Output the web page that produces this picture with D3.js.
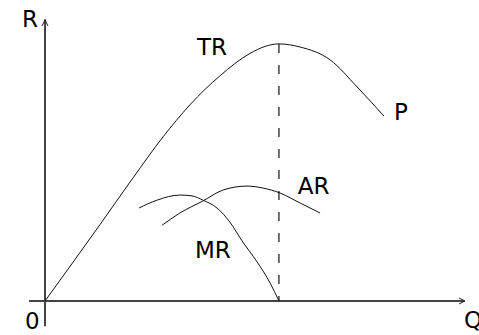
<!DOCTYPE html>
<html lang="en">
<head>
    <meta charset="UTF-8">
    <title>TR / AR / MR</title>
    <script src="https://d3js.org/d3.v7.min.js"></script>
    <style>
        body { margin: 0; background: #fff; }
        text { font-family: "DejaVu Sans", Verdana, sans-serif; font-size: 23px; fill: #000; }
    </style>
</head>
<body>
    <div id="chart"></div>
    <script>
        // curve values (Q on x, R on y, both 0..100)
        const trQ = [0, 13.1, 20.95, 28.1, 34.5, 41.7, 48.8, 52.4, 55.7, 60.7, 67.9, 74.3, 80.7];
        const trR = [0, 27.2, 43.8, 58.4, 69.8, 80.2, 88.1, 90.6, 91.5, 90.4, 85.8, 76.2, 65.8];

        const mrQ = [22.4, 26.7, 32.1, 35.0, 37.6, 40.95, 44.0, 47.1, 50.5, 53.6, 55.7];
        const mrR = [33.1, 35.9, 37.7, 37.4, 35.9, 33.1, 28.1, 21.0, 13.9, 6.4, 0];

        const arQ = [27.9, 32.1, 37.6, 42.4, 48.1, 51.9, 56.0, 60.7, 65.5];
        const arR = [27.0, 31.3, 35.6, 39.5, 40.9, 40.2, 38.4, 34.9, 31.3];

        const peakQ = 55.7;   // output where TR is highest (MR = 0)

        const curveNames = ["TR", "MR", "AR", "P"];

        const width = 479, height = 335;

        const x = d3.scaleLinear().domain([0, 100]).range([45, 465]);
        const y = d3.scaleLinear().domain([0, 100]).range([301, 20]);

        const svg = d3.select("#chart").append("svg")
            .attr("width", width)
            .attr("height", height);

        const zip = (qs, rs) => qs.map((q, i) => [q, rs[i]]);

        const line = d3.line()
            .x(d => x(d[0]))
            .y(d => y(d[1]))
            .curve(d3.curveMonotoneX);

        // axes (no ticks, just arrows)
        const axis = svg.append("g")
            .attr("stroke", "#444")
            .attr("stroke-width", 2)
            .attr("fill", "none");

        axis.append("line")
            .attr("x1", x(-3.8)).attr("x2", x(99.8))
            .attr("y1", y(0)).attr("y2", y(0));
        axis.append("line")
            .attr("x1", x(0)).attr("x2", x(0))
            .attr("y1", y(-9)).attr("y2", y(100.3));

        const arrows = svg.append("g")
            .attr("stroke", "#222")
            .attr("stroke-width", 1)
            .attr("fill", "none");
        arrows.append("path")
            .attr("d", `M${x(0) - 3},${y(100) + 6} L${x(0)},${y(100)} L${x(0) + 3},${y(100) + 6}`);
        arrows.append("path")
            .attr("d", `M${x(100) - 6},${y(0) - 3} L${x(100)},${y(0)} L${x(100) - 6},${y(0) + 3}`);

        // dashed drop line from TR peak
        svg.append("line")
            .attr("x1", x(peakQ)).attr("x2", x(peakQ))
            .attr("y1", y(d3.max(trR))).attr("y2", y(0))
            .attr("stroke", "#111")
            .attr("stroke-width", 1.2)
            .attr("stroke-dasharray", "9,12");

        // curves
        [zip(trQ, trR), zip(mrQ, mrR), zip(arQ, arR)].forEach(pts => {
            svg.append("path")
                .datum(pts)
                .attr("d", line)
                .attr("fill", "none")
                .attr("stroke", "#111")
                .attr("stroke-width", 1);
        });

        // curve labels
        const labelAt = [[36.2, 87.5], [35.7, 15.3], [60.2, 38.1], [83.1, 64.4]];
        svg.append("g").selectAll("text")
            .data(curveNames)
            .enter().append("text")
            .attr("x", (d, i) => x(labelAt[i][0]))
            .attr("y", (d, i) => y(labelAt[i][1]))
            .text(d => d);

        // axis labels
        svg.append("text").attr("x", 22).attr("y", 27).text("R");
        svg.append("text").attr("x", 25).attr("y", 329).text("0");
        svg.append("text").attr("x", 464).attr("y", 328).text("Q");
    </script>
</body>
</html>
